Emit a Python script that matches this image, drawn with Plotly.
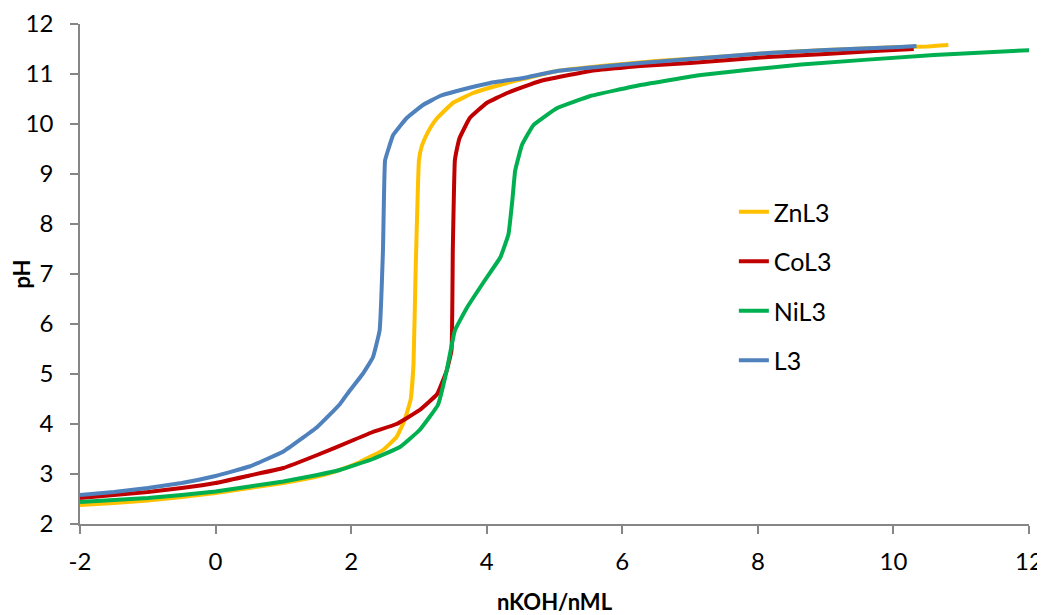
import plotly.graph_objects as go

zn_x = [-2, -1.5, -1, -0.5, 0, 0.5, 1, 1.5, 1.83, 2.13, 2.47, 2.67, 2.79, 2.88, 2.92, 2.95, 2.98, 3.0, 3.04, 3.09, 3.18, 3.27, 3.5, 3.8, 4.3, 5.04, 5.68, 6.5, 7.5, 8.15, 9.0, 10.1, 10.5, 10.81]
zn_y = [2.38, 2.42, 2.47, 2.54, 2.62, 2.72, 2.82, 2.95, 3.08, 3.24, 3.48, 3.74, 4.08, 4.5, 5.2, 7.0, 8.5, 9.27, 9.55, 9.72, 9.95, 10.12, 10.42, 10.62, 10.82, 11.06, 11.16, 11.26, 11.35, 11.42, 11.48, 11.54, 11.55, 11.58]

co_x = [-2, -1.5, -1, -0.5, 0, 0.5, 1, 1.5, 2.0, 2.32, 2.67, 3.01, 3.27, 3.41, 3.48, 3.5, 3.53, 3.56, 3.6, 3.75, 4.0, 4.3, 4.79, 5.53, 6.27, 7.0, 8.15, 9.0, 9.72, 10.3]
co_y = [2.52, 2.58, 2.64, 2.72, 2.82, 2.97, 3.12, 3.38, 3.66, 3.84, 4.0, 4.28, 4.6, 5.07, 5.47, 7.5, 9.27, 9.5, 9.72, 10.12, 10.42, 10.62, 10.86, 11.06, 11.16, 11.22, 11.34, 11.4, 11.46, 11.5]

ni_x = [-2, -1.5, -1, -0.5, 0, 0.5, 1, 1.5, 1.83, 2.32, 2.72, 3.01, 3.28, 3.41, 3.53, 3.71, 4.0, 4.2, 4.32, 4.38, 4.42, 4.52, 4.69, 5.04, 5.53, 6.27, 7.16, 8.64, 10.6, 12.04]
ni_y = [2.44, 2.48, 2.52, 2.58, 2.65, 2.75, 2.85, 2.98, 3.08, 3.3, 3.54, 3.88, 4.38, 5.07, 5.87, 6.33, 6.93, 7.33, 7.79, 8.5, 9.07, 9.58, 9.98, 10.32, 10.56, 10.78, 10.98, 11.19, 11.38, 11.48]

l3_x = [-2, -1.5, -1, -0.5, 0, 0.5, 1, 1.5, 1.83, 1.98, 2.17, 2.32, 2.42, 2.47, 2.5, 2.55, 2.62, 2.82, 3.06, 3.31, 3.56, 4.05, 4.54, 5.04, 5.78, 6.27, 7.0, 8.15, 9.0, 10.1, 10.34]
l3_y = [2.58, 2.64, 2.72, 2.82, 2.96, 3.15, 3.45, 3.94, 4.39, 4.67, 5.0, 5.33, 5.87, 7.5, 9.27, 9.5, 9.78, 10.12, 10.38, 10.56, 10.66, 10.82, 10.92, 11.06, 11.16, 11.22, 11.3, 11.42, 11.48, 11.54, 11.56]

series = [
    ("ZnL3", zn_x, zn_y, "#FFC000"),
    ("CoL3", co_x, co_y, "#C00000"),
    ("NiL3", ni_x, ni_y, "#00B050"),
    ("L3", l3_x, l3_y, "#4F81BD"),
]

x_ticks = [-2, 0, 2, 4, 6, 8, 10, 12]
x_tick_text = ["-2", "0", "2", "4", "6", "8", "10", "12"]
y_ticks = [2, 3, 4, 5, 6, 7, 8, 9, 10, 11, 12]

FONT = "Lato, 'Liberation Sans', sans-serif"
AXIS_COL = "#868686"

fig = go.Figure()
for name, xs, ys, col in series:
    fig.add_trace(go.Scatter(x=xs, y=ys, mode="lines", name=name, legendgroup=name,
                             line=dict(color=col, width=4, shape="spline", smoothing=0.3)))

# page body has an 8px default margin, so the figure is 8px smaller
fig.update_layout(
    width=1037, height=607,
    margin=dict(l=72, r=16, t=16, b=91),
    plot_bgcolor="white", paper_bgcolor="white",
    font=dict(family=FONT, size=24, color="black"),
    showlegend=True,
    legend=dict(x=0.689, y=0.670, xanchor="left", yanchor="top",
                font=dict(size=25, family=FONT), tracegroupgap=14,
                bgcolor="rgba(0,0,0,0)"),
    xaxis=dict(range=[-2, 12], tickvals=x_ticks, ticktext=x_tick_text,
               showgrid=False, zeroline=False, automargin=False,
               showline=True, linecolor=AXIS_COL, linewidth=1.5,
               ticks="outside", ticklen=8, tickcolor=AXIS_COL, tickwidth=1.5,
               ticklabelstandoff=7, tickfont=dict(size=24),
               title=dict(text="<b>nKOH/nML</b>", font=dict(size=22), standoff=30)),
    yaxis=dict(range=[2, 12], tickvals=y_ticks,
               showgrid=False, zeroline=False, automargin=False,
               showline=True, linecolor=AXIS_COL, linewidth=1.5,
               ticks="outside", ticklen=8, tickcolor=AXIS_COL, tickwidth=1.5,
               ticklabelstandoff=12, tickfont=dict(size=24),
               title=dict(text="<b>pH</b>", font=dict(size=22), standoff=2)),
)

fig.write_html("out.html")
